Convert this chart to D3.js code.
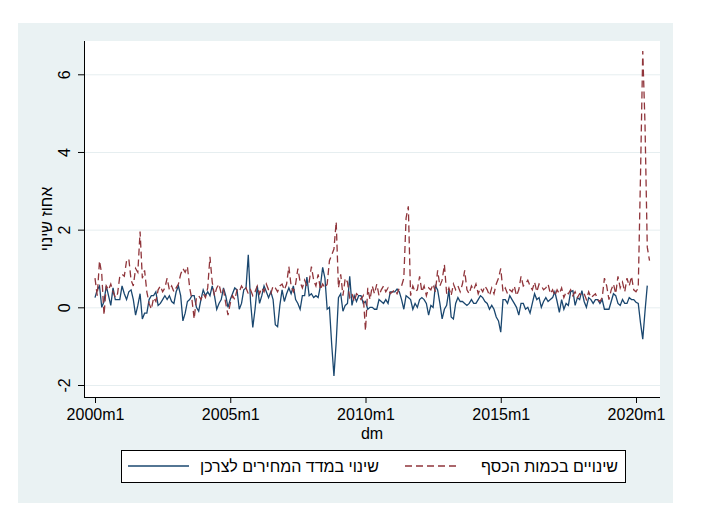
<!DOCTYPE html>
<html>
<head>
<meta charset="utf-8">
<script src="https://cdn.jsdelivr.net/npm/d3@7"></script>
<style>
body { margin: 0; background: #fff; }
text { font-family: "Liberation Sans", Arial, sans-serif; }
</style>
</head>
<body>
<svg id="chart" width="708" height="517"></svg>
<script>
// month index 0 = 2000m1
var xTickMonths = [0, 60, 120, 180, 240];
var xTickLabels = ["2000m1", "2005m1", "2010m1", "2015m1", "2020m1"];
var yTicks = [-2, 0, 2, 4, 6];
var xTitle = "dm";
var yTitle = "אחוז שינוי";
var seriesNames = ["שינוי במדד המחירים לצרכן", "שינויים בכמות הכסף"];

// monthly % change in consumer price index (blue)
var cpiChange = [
  0.25, 0.45, 0.55, 0.00, 0.15, 0.55, 0.30, 0.05, 0.50, 0.20, 0.20, 0.20,
  0.55, 0.35, 0.20, 0.40, 0.45, 0.20, -0.20, 0.05, 0.35, -0.30, -0.15, -0.15,
  0.20, 0.30, 0.30, 0.40, 0.05, 0.10, 0.20, 0.30, 0.20, 0.30, 0.15, 0.10,
  0.40, 0.55, 0.30, -0.35, -0.15, 0.15, 0.20, 0.30, 0.30, 0.00, -0.10, 0.20,
  0.45, 0.30, 0.40, 0.30, 0.55, 0.30, -0.05, 0.10, 0.20, 0.50, 0.30, 0.00,
  0.20, 0.35, 0.50, 0.45, -0.05, 0.10, 0.45, 0.50, 1.35, 0.15, -0.52, -0.05,
  0.55, 0.10, 0.30, 0.55, 0.40, 0.25, 0.40, 0.20, -0.45, -0.50, 0.05, 0.45,
  0.15, 0.35, 0.50, 0.35, 0.55, 0.20, 0.10, -0.05, 0.30, 0.30, 0.78, 0.30,
  0.35, 0.25, 0.30, 0.25, 0.55, 1.03, 0.75, -0.05, 0.00, -0.95, -1.77, -0.90,
  0.25, 0.35, -0.10, 0.05, 0.10, 0.80, 0.05, 0.30, 0.15, 0.30, 0.30, 0.10,
  0.15, -0.05, 0.00, 0.00, -0.05, -0.05, 0.20, 0.15, 0.10, 0.20, 0.10, 0.40,
  0.40, 0.40, 0.47, 0.40, 0.20, -0.05, 0.30, 0.25, 0.20, -0.05, 0.10, 0.00,
  0.20, 0.25, 0.20, 0.10, -0.20, 0.05, 0.00, 0.56, 0.45, 0.10, -0.30, -0.05,
  0.05, 0.45, -0.25, -0.30, 0.10, 0.25, 0.15, 0.15, 0.10, 0.05, 0.10, 0.20,
  0.10, 0.10, 0.20, 0.30, 0.25, 0.15, 0.10, -0.05, 0.05, -0.05, -0.25, -0.35,
  -0.64, 0.20, 0.20, 0.10, 0.30, 0.20, 0.10, 0.00, -0.20, 0.10, 0.10, -0.05,
  0.00, -0.15, 0.10, 0.35, 0.20, 0.25, 0.00, 0.15, 0.25, 0.15, 0.20, 0.25,
  0.40, 0.15, -0.13, 0.20, -0.05, 0.10, 0.05, 0.40, 0.43, 0.05, 0.25, 0.20,
  0.43, 0.15, 0.00, 0.25, 0.20, 0.10, 0.20, 0.20, 0.10, 0.20, -0.05, -0.05,
  -0.05, 0.15, 0.35, 0.30, 0.10, 0.05, 0.20, 0.10, 0.10, 0.25, 0.20, 0.20,
  0.13, 0.10, -0.40, -0.82, -0.10, 0.56
];

// monthly % change in money supply (red, dashed)
var moneyChange = [
  0.75, 0.30, 1.20, 0.85, -0.20, 0.55, 0.45, 0.60, 0.40, 0.25, 0.35, 0.80,
  0.85, 0.80, 1.20, 1.25, 0.70, 0.55, 1.00, 0.90, 1.95, 0.75, 0.95, 0.40,
  0.10, -0.05, 0.25, 0.15, 0.45, 0.55, 0.40, 0.50, 0.75, 0.45, 0.55, 0.40,
  0.50, 0.60, 0.85, 1.00, 0.90, 1.05, 0.50, 0.20, -0.30, 0.25, 0.30, 0.20,
  0.35, 0.25, 0.50, 1.30, 0.65, 0.30, 0.50, 0.60, 0.35, 0.45, 0.10, -0.20,
  0.10, 0.30, 0.20, 0.45, 0.40, 0.55, 0.45, 0.50, 0.35, 0.45, 0.30, 0.40,
  0.55, 0.35, 0.50, 0.40, 0.60, 0.45, 0.35, 0.55, 0.50, 0.40, 0.55, 0.60,
  0.45, 0.60, 1.05, 0.55, 0.40, 0.60, 1.00, 0.65, 0.50, 0.70, 0.55, 0.65,
  1.05, 0.70, 0.55, 0.85, 0.45, 0.60, 0.50, 0.60, 1.20, 1.35, 1.50, 2.20,
  0.50, 0.85, 0.30, 0.75, 0.65, 0.25, 0.35, 0.15, 0.35, 0.30, 0.20, 0.30,
  -0.60, 0.50, 0.20, 0.55, 0.35, 0.60, 0.30, 0.45, 0.55, 0.40, 0.50, 0.35,
  0.40, 0.45, 0.35, 0.50, 0.55, 0.75, 2.30, 2.60, 0.30, 0.55, 0.40, 0.45,
  0.80, 0.40, 0.55, 0.30, 0.50, 0.45, 0.60, 0.40, 0.95, 0.55, 0.70, 1.10,
  0.35, 0.50, 0.30, 0.60, 0.45, 0.55, 0.40, 0.60, 0.95, 0.45, 0.35, 0.55,
  0.45, 0.60, 0.35, 0.50, 0.40, 0.55, 0.45, 0.30, 0.50, 0.35, 0.60, 0.75,
  1.00, 0.40, 0.50, 0.35, 0.45, 0.40, 0.55, 0.30, 0.45, 0.80, 0.55, 0.60,
  0.70, 0.55, 0.45, 0.65, 0.40, 0.60, 0.55, 0.45, 0.50, 0.60, 0.35, 0.45,
  0.30, 0.45, 0.35, 0.50, 0.25, 0.40, 0.35, 0.45, 0.30, 0.40, 0.25, 0.35,
  0.30, 0.35, 0.20, 0.40, 0.25, 0.30, 0.35, 0.20, 0.15, 0.25, 0.75, 0.55,
  0.20, 0.45, 0.60, 0.35, 0.80, 0.50, 0.65, 0.40, 0.75, 0.55, 0.80, 0.45,
  0.40, 0.50, 3.40, 6.60, 4.70, 1.55, 1.20
];

var width = 708, height = 517;
var bg = "#eaf2f3";
var navy = "#1a476f", maroon = "#90353b";
var plotLeft = 84, plotRight = 660, plotTop = 41, plotBottom = 397;

var svg = d3.select("#chart");

// outer graph region
svg.append("rect")
  .attr("x", 18).attr("y", 23)
  .attr("width", 655).attr("height", 480)
  .attr("fill", bg);

// plot region
svg.append("rect")
  .attr("x", plotLeft).attr("y", plotTop)
  .attr("width", plotRight - plotLeft).attr("height", plotBottom - plotTop)
  .attr("fill", "#fff");

var x = d3.scaleLinear().domain([0, 240]).range([95, 636]);
var y = d3.scaleLinear().domain([-2, 6]).range([385, 74.3]);

// grid lines
var grid = svg.append("g")
  .attr("transform", "translate(" + plotLeft + ",0)")
  .call(d3.axisRight(y).tickValues(yTicks).tickSize(plotRight - plotLeft).tickFormat(""));
grid.select(".domain").remove();
grid.selectAll("line").attr("stroke", "#e6eef0").attr("stroke-width", 1);

// y axis
var yAxis = svg.append("g")
  .attr("transform", "translate(" + plotLeft + ",0)")
  .call(d3.axisLeft(y).tickValues(yTicks).tickSize(6).tickSizeOuter(0)
    .tickFormat(function(d) { return String(d); }));
yAxis.select(".domain").attr("d", "M0.5," + plotTop + "V" + plotBottom).attr("stroke", "#000");
yAxis.selectAll("line").attr("stroke", "#000");
yAxis.selectAll("text")
  .attr("x", null).attr("dy", null)
  .attr("transform", "translate(-14,0) rotate(-90)")
  .attr("text-anchor", "middle")
  .attr("fill", "#000")
  .style("font-size", "16px")
  .style("font-family", "'Liberation Sans', Arial, sans-serif");

// x axis
var xAxis = svg.append("g")
  .attr("transform", "translate(0," + plotBottom + ")")
  .call(d3.axisBottom(x).tickValues(xTickMonths).tickSize(6).tickSizeOuter(0)
    .tickFormat(function(d, i) { return xTickLabels[i]; }));
xAxis.select(".domain").attr("d", "M" + plotLeft + ",0.5H" + plotRight).attr("stroke", "#000");
xAxis.selectAll("line").attr("stroke", "#000");
xAxis.selectAll("text")
  .attr("y", 23).attr("dy", null)
  .attr("fill", "#000")
  .style("font-size", "16px")
  .style("font-family", "'Liberation Sans', Arial, sans-serif");

// axis titles
svg.append("text")
  .attr("x", (plotLeft + plotRight) / 2).attr("y", 439)
  .attr("text-anchor", "middle")
  .style("font-size", "16px")
  .text(xTitle);

svg.append("text")
  .attr("transform", "translate(52," + ((plotTop + plotBottom) / 2) + ") rotate(-90)")
  .attr("text-anchor", "middle")
  .style("font-size", "16px")
  .text(yTitle);

// series
var line = d3.line()
  .x(function(d, i) { return x(i); })
  .y(function(d) { return y(d); });

svg.append("path")
  .datum(cpiChange)
  .attr("d", line)
  .attr("fill", "none")
  .attr("stroke", navy)
  .attr("stroke-width", 1.3);

svg.append("path")
  .datum(moneyChange)
  .attr("d", line)
  .attr("fill", "none")
  .attr("stroke", maroon)
  .attr("stroke-width", 1.3)
  .attr("stroke-dasharray", "7,4");

// legend
var legend = svg.append("g");
legend.append("rect")
  .attr("x", 121.5).attr("y", 450.5)
  .attr("width", 504).attr("height", 32)
  .attr("fill", "#fff").attr("stroke", "#000").attr("stroke-width", 1);

var legendKeys = [
  { name: seriesNames[0], color: navy, dash: null, x1: 128, x2: 189, tx: 200 },
  { name: seriesNames[1], color: maroon, dash: "7,4", x1: 405, x2: 458, tx: 481 }
];
legendKeys.forEach(function(k) {
  legend.append("line")
    .attr("x1", k.x1).attr("x2", k.x2)
    .attr("y1", 466).attr("y2", 466)
    .attr("stroke", k.color).attr("stroke-width", 1.3)
    .attr("stroke-dasharray", k.dash);
  legend.append("text")
    .attr("x", k.tx).attr("y", 472)
    .attr("text-anchor", "start")
    .style("font-size", "16px")
    .text(k.name);
});
</script>
</body>
</html>
